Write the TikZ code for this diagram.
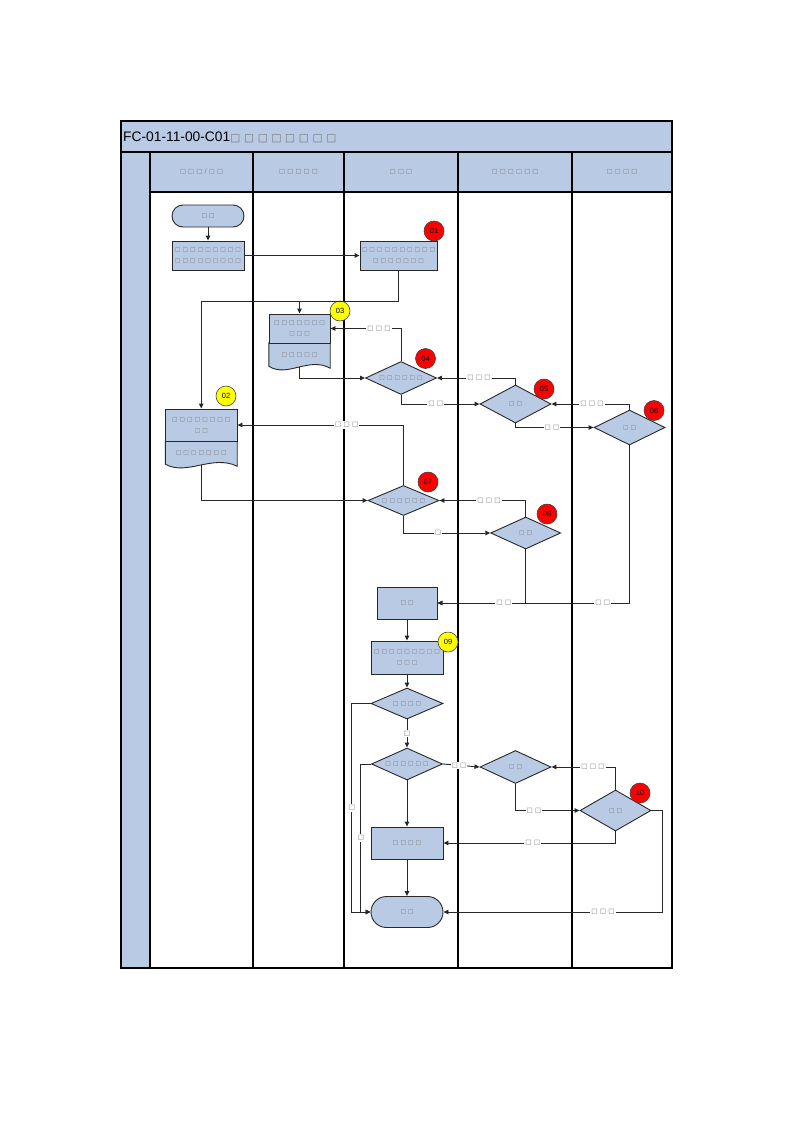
\documentclass[tikz,border=0pt]{standalone}
\usepackage{fontspec}
\setmainfont{Liberation Sans}
\newfontfamily\tofu[LetterSpace=35]{DejaVu Sans}
\usetikzlibrary{shapes.geometric,shapes.misc,arrows.meta,calc}
\pgfdeclarelayer{bg}
\pgfsetlayers{bg,main}
\definecolor{fillc}{RGB}{185,203,228}
\definecolor{tgray}{RGB}{120,120,120}
\definecolor{lnc}{RGB}{40,40,40}
\definecolor{badred}{RGB}{255,0,0}
\definecolor{badyel}{RGB}{255,255,0}
\tikzset{
  tf/.style={font={\tofu\fontsize{5.8}{11}\selectfont}, text=tgray},
  proc/.style={rectangle, draw=lnc, line width=0.9pt, fill=fillc, inner sep=0pt, align=center, tf},
  docl/.style={rectangle, inner sep=0pt, align=center, tf},
  docs/.style={draw=lnc, line width=0.9pt, fill=fillc},
  dec/.style={diamond, draw=lnc, line width=0.9pt, fill=fillc, inner sep=0pt, tf,
    execute at begin node={\hbox to 0pt\bgroup\hss}, execute at end node={\hss\egroup}},
  term/.style={rounded rectangle, draw=lnc, line width=0.9pt, fill=fillc, inner sep=0pt, tf},
  badge/.style={circle, draw=black!75, line width=0.6pt, minimum size=20pt, inner sep=0pt, font=\fontsize{7.5}{8}\selectfont},
  lbl/.style={fill=white, inner sep=1pt, font={\tofu\fontsize{6.6}{7}\selectfont}, text=tgray},
  hdr/.style={inner sep=0pt, font={\tofu\fontsize{6.3}{7}\selectfont}, text=tgray},
  conn/.style={draw=lnc, line width=0.9pt, -{Triangle[length=5pt,width=4.5pt]}},
  lane/.style={draw=black, line width=1.1pt},
}
\begin{document}
\begin{tikzpicture}[x=1pt,y=-1pt]
\useasboundingbox (0,0) rectangle (793,1122);
% frame and lanes
\fill[fillc] (121,121) rectangle (672,192);
\fill[fillc] (121,152) rectangle (150,968);
\draw[lane] (121,152) -- (672,152);
\draw[lane] (150,192) -- (672,192);
\foreach \x in {150,253,344,458,572} \draw[lane] (\x,152) -- (\x,968);
\draw[black, line width=1.3pt] (121,121) rectangle (672,968);
\node[anchor=base west, inner sep=0pt] (title) at (123,141) {\fontsize{13.8}{14}\selectfont FC-01-11-00-C01{\tofu\color{tgray}\fontsize{10.6}{11}\selectfont □□□□□□□□}};
\node[hdr] (h1) at (201.5,172) {□□□/□□};
\node[hdr] (h2) at (298.5,172) {□□□□□};
\node[hdr] (h3) at (401,172) {□□□};
\node[hdr] (h4) at (515,172) {□□□□□□};
\node[hdr] (h5) at (622,172) {□□□□};

% nodes
\node[term, minimum width=72pt, minimum height=22pt] (start) at (208,216) {□□};
\node[proc, minimum width=72pt, minimum height=29pt] (A) at (208,255.5) {□□□□□□□□□\\□□□□□□□□□};
\node[proc, minimum width=77pt, minimum height=29pt] (n01) at (398.5,255.5) {□□□□□□□□□□\\□□□□□□□};

\node[proc, minimum width=61pt, minimum height=29pt] (doc03) at (299.5,328.5) {□□□□□□□\\□□□};
\node[docl, minimum width=61pt, minimum height=23pt] (doc03b) at (299.5,354.5) {□□□□□};
\begin{pgfonlayer}{bg}
\path[docs] (doc03b.north west) -- (doc03b.south west)
  .. controls ($(doc03b.south west)!0.3!(doc03b.south east)+(0,12)$) and ($(doc03b.south west)!0.65!(doc03b.south east)+(0,-10)$) .. ($(doc03b.south east)+(0,2)$)
  -- (doc03b.north east) -- cycle;
\end{pgfonlayer}
\coordinate (d03b) at ($(doc03b.south)+(0,1)$);

\node[proc, minimum width=71.5pt, minimum height=32pt] (doc02) at (201.25,425) {□□□□□□□□\\□□};
\node[docl, minimum width=71.5pt, minimum height=23pt] (doc02b) at (201.25,452.5) {□□□□□□□};
\begin{pgfonlayer}{bg}
\path[docs] (doc02b.north west) -- (doc02b.south west)
  .. controls ($(doc02b.south west)!0.3!(doc02b.south east)+(0,12)$) and ($(doc02b.south west)!0.65!(doc02b.south east)+(0,-10)$) .. ($(doc02b.south east)+(0,2)$)
  -- (doc02b.north east) -- cycle;
\end{pgfonlayer}
\coordinate (d02b) at ($(doc02b.south)+(0,1)$);

\node[dec, minimum width=71pt, minimum height=33pt] (n04) at (401,378) {□□□□□□};
\node[dec, minimum width=71pt, minimum height=38pt] (n05) at (515.5,404) {□□};
\node[dec, minimum width=71pt, minimum height=35pt] (n06) at (629.5,427.5) {□□};
\node[dec, minimum width=71pt, minimum height=30pt] (n07) at (403.5,500.5) {□□□□□□};
\node[dec, minimum width=70pt, minimum height=32pt] (n08) at (525.7,533) {□□};
\node[proc, minimum width=60pt, minimum height=32pt] (nB) at (407,603) {□□};
\node[proc, minimum width=72pt, minimum height=33pt] (n09) at (407,657.5) {□□□□□□□□□\\□□□};
\node[dec, minimum width=72pt, minimum height=31pt] (nC) at (407,703.5) {□□□□};
\node[dec, minimum width=71pt, minimum height=32pt] (nD) at (407,764) {□□□□□□};
\node[dec, minimum width=71pt, minimum height=33pt] (nE) at (515.5,767) {□□};
\node[dec, minimum width=71pt, minimum height=41pt] (nF) at (615.5,810.5) {□□};
\node[proc, minimum width=72pt, minimum height=32pt] (nG) at (407,843) {□□□□};
\node[term, minimum width=72pt, minimum height=31pt] (nH) at (407,912) {□□};

% badges
\node[badge, fill=badred] (b01) at (434,231) {01};
\node[badge, fill=badyel] (b02) at (226,396) {02};
\node[badge, fill=badyel] (b03) at (340,311) {03};
\node[badge, fill=badred] (b04) at (425.5,358.5) {04};
\node[badge, fill=badred] (b05) at (544,389) {05};
\node[badge, fill=badred] (b06) at (654,410.5) {06};
\node[badge, fill=badred] (b07) at (428,482) {07};
\node[badge, fill=badred] (b08) at (547,514) {08};
\node[badge, fill=badyel] (b09) at (448,642) {09};
\node[badge, fill=badred] (b10) at (640,793) {10};

% connectors
\draw[conn] (start.south) -- (A.north);
\draw[conn] (A.east) -- (n01.west);
\draw[conn] (n01.south) -- ++(0,31) coordinate (j0) -| (doc02.north);
\coordinate (j1) at (doc03.north |- j0);
\draw[conn] (j1) -- (doc03.north);
\draw[conn] (d03b) |- (n04.west);
\draw[conn] (n04.north) |- (doc03.east);
\draw[conn] (n04.south) |- (n05.west);
\draw[conn] (n05.north) |- (n04.east);
\draw[conn] (n06.north) |- (n05.east);
\draw[conn] (n05.south) |- (n06.west);
\draw[conn] (n07.north) |- (doc02.east);
\draw[conn] (d02b) |- (n07.west);
\draw[conn] (n08.north) |- (n07.east);
\draw[conn] (n07.south) |- (n08.west);
\draw[conn] (n08.south) |- (nB.east);
\draw[conn] (n06.south) |- (nB.east);
\draw[conn] (nB.south) -- (n09.north);
\draw[conn] (n09.south) -- (nC.north);
\draw[conn] (nC.south) -- (nD.north);
\draw[conn] (nD.south) -- (nG.north);
\draw[conn] (nG.south) -- (nH.north);
\draw[conn] (nD.east) -- (nE.west);
\draw[conn] (nE.south) |- (nF.west);
\draw[conn] (nF.north) |- (nE.east);
\draw[conn] (nF.south) |- (nG.east);
\draw[conn] (nF.east) -- ++(11.3,0) |- (nH.east);
\draw[conn] (nC.west) -- ++(-19,0) |- (nH.west);
\draw[conn] (nD.west) -- ++(-11,0) |- (nH.west);

% connector labels
\node[lbl] (l1) at (379,328.5) {□□□};
\node[lbl] (l2) at (435.7,404) {□□};
\node[lbl] (l3) at (479,378) {□□□};
\node[lbl] (l4) at (592,404) {□□□};
\node[lbl] (l5) at (552,427.5) {□□};
\node[lbl] (l6) at (346.7,425) {□□□};
\node[lbl] (l7) at (489,500.5) {□□□};
\node[lbl] (l8) at (438,533) {□};
\node[lbl] (l9) at (503.7,603) {□□};
\node[lbl] (l10) at (602.7,603) {□□};
\node[lbl] (l11) at (407,733.5) {□};
\node[lbl] (l12) at (459,765.5) {□□};
\node[lbl] (l13) at (534,810.5) {□□};
\node[lbl] (l14) at (593,767) {□□□};
\node[lbl] (l15) at (532.7,843) {□□};
\node[lbl] (l16) at (603,912) {□□□};
\node[lbl] (l17) at (352,808) {□};
\node[lbl] (l18) at (361,838) {□};
\end{tikzpicture}
\end{document}
